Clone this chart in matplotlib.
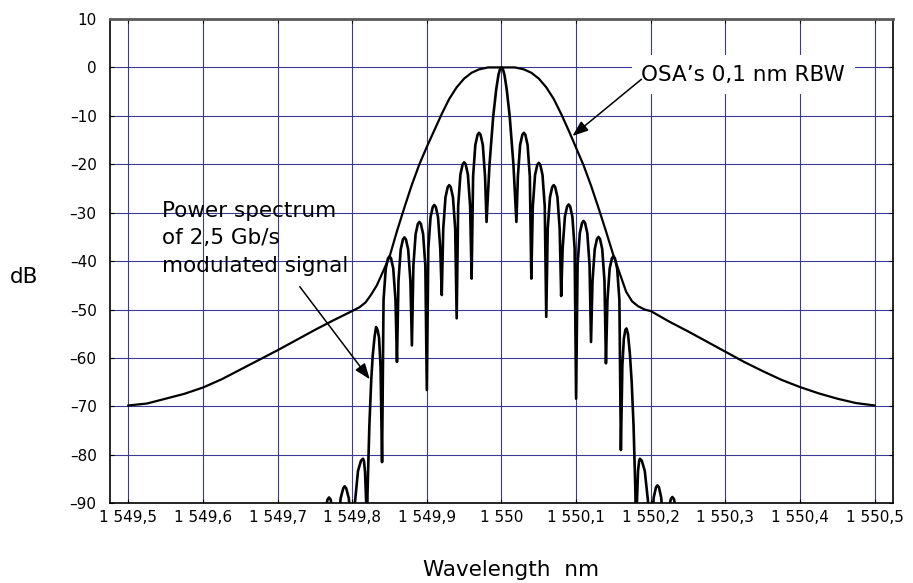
import matplotlib
matplotlib.use("Agg")
import matplotlib.pyplot as plt

# OSA filter response (0.1 nm RBW)
osa_wl = [1549.500, 1549.525, 1549.550, 1549.575, 1549.600, 1549.625, 1549.650,
          1549.675, 1549.700, 1549.725, 1549.750, 1549.775, 1549.800, 1549.810,
          1549.818, 1549.825, 1549.833, 1549.840, 1549.850, 1549.860, 1549.870,
          1549.880, 1549.890, 1549.900, 1549.910, 1549.920, 1549.930, 1549.940,
          1549.950, 1549.960, 1549.970, 1549.982, 1550.000, 1550.018, 1550.030,
          1550.040, 1550.050, 1550.060, 1550.070, 1550.080, 1550.090, 1550.100,
          1550.110, 1550.120, 1550.130, 1550.140, 1550.150, 1550.160, 1550.167,
          1550.175, 1550.183, 1550.192, 1550.200, 1550.225, 1550.250, 1550.275,
          1550.300, 1550.325, 1550.350, 1550.375, 1550.400, 1550.425, 1550.450,
          1550.475, 1550.500]
osa_db = [-69.8, -69.4, -68.4, -67.4, -66.1, -64.4, -62.4,
          -60.4, -58.4, -56.3, -54.2, -52.2, -50.3, -49.5,
          -48.5, -47.0, -45.0, -42.6, -39.1, -33.8, -28.9,
          -24.2, -20.0, -16.4, -13.0, -9.6, -6.5, -4.1,
          -2.3, -1.1, -0.4, 0.0, 0.0, 0.0, -0.4,
          -1.1, -2.3, -4.1, -6.5, -9.6, -13.0, -16.6,
          -20.2, -24.4, -29.0, -33.8, -38.8, -43.2, -46.3,
          -48.3, -49.3, -50.0, -50.3, -52.5, -54.5, -56.6,
          -58.7, -60.8, -62.7, -64.5, -66.0, -67.3, -68.4,
          -69.3, -69.8]

# power spectrum of the 2.5 Gb/s signal, traced lobe by lobe (left to right)
sig_wl = [
    1549.759, 1549.761, 1549.764, 1549.767, 1549.769, 1549.771, 1549.774, 1549.777,
    1549.779, 1549.781, 1549.7845, 1549.788, 1549.790, 1549.792, 1549.7955, 1549.799,
    1549.801, 1549.8037, 1549.8078, 1549.8118, 1549.8145, 1549.8158, 1549.8172, 1549.8188,
    1549.8195, 1549.8205, 1549.823, 1549.8255, 1549.8275, 1549.830, 1549.832, 1549.834, 1549.836, 1549.838,
    1549.840, 1549.842, 1549.845, 1549.848, 1549.850, 1549.852, 1549.855, 1549.858,
    1549.860, 1549.862, 1549.865, 1549.868, 1549.870, 1549.872, 1549.875, 1549.878,
    1549.880, 1549.882, 1549.885, 1549.888, 1549.890, 1549.892, 1549.895, 1549.898,
    1549.900, 1549.902, 1549.905, 1549.908, 1549.910, 1549.912, 1549.915, 1549.918,
    1549.920, 1549.922, 1549.925, 1549.928, 1549.930, 1549.932, 1549.935, 1549.938,
    1549.940, 1549.942, 1549.945, 1549.948, 1549.950, 1549.952, 1549.955, 1549.958,
    1549.960, 1549.962, 1549.965, 1549.968, 1549.970, 1549.972, 1549.975, 1549.978,
    1549.980, 1549.984, 1549.989, 1549.993, 1549.996, 1549.998, 1550.000,
    1550.002, 1550.004, 1550.007, 1550.011, 1550.016,
    1550.020, 1550.022, 1550.025, 1550.028, 1550.030, 1550.032, 1550.035, 1550.038,
    1550.040, 1550.042, 1550.045, 1550.048, 1550.050, 1550.052, 1550.055, 1550.058,
    1550.060, 1550.062, 1550.065, 1550.068, 1550.070, 1550.072, 1550.075, 1550.078,
    1550.080, 1550.082, 1550.085, 1550.088, 1550.090, 1550.092, 1550.095, 1550.098,
    1550.100, 1550.102, 1550.105, 1550.108, 1550.110, 1550.112, 1550.115, 1550.118,
    1550.120, 1550.122, 1550.125, 1550.128, 1550.130, 1550.132, 1550.135, 1550.138,
    1550.140, 1550.142, 1550.145, 1550.148, 1550.150, 1550.152, 1550.155, 1550.158,
    1550.160, 1550.162, 1550.164, 1550.166, 1550.1675, 1550.1695, 1550.172, 1550.1745, 1550.177, 1550.1795,
    1550.1805, 1550.1815, 1550.183, 1550.1845, 1550.1855, 1550.188, 1550.192, 1550.1965,
    1550.199, 1550.201, 1550.204, 1550.207, 1550.209, 1550.211, 1550.214, 1550.217,
    1550.219, 1550.221, 1550.224, 1550.227, 1550.229, 1550.231, 1550.234, 1550.237,
    1550.240]
sig_db = [
    -100, -97.8, -91.3, -89.2, -88.8, -89.2, -91.3, -97.8,
    -100, -95.5, -89.0, -86.9, -86.5, -86.9, -89.0, -95.5,
    -100, -89.8, -83.3, -81.2, -80.8, -81.3, -83.5, -90.0,
    -100, -88.0, -74.0, -64.6, -59.5, -55.6, -53.6, -54.2, -55.8, -61.8,
    -81.5, -48.0, -41.5, -39.4, -39.0, -39.4, -41.5, -48.0,
    -60.8, -44.1, -37.6, -35.5, -35.1, -35.5, -37.6, -44.1,
    -57.4, -40.9, -34.4, -32.3, -31.9, -32.3, -34.4, -40.9,
    -66.6, -37.4, -30.9, -28.8, -28.4, -28.8, -30.9, -37.4,
    -47.0, -33.3, -26.8, -24.7, -24.3, -24.7, -26.8, -33.3,
    -51.8, -28.6, -22.1, -20.0, -19.6, -20.0, -22.1, -28.6,
    -43.6, -22.5, -16.0, -13.9, -13.5, -13.9, -16.0, -22.5,
    -31.9, -20.0, -10.0, -4.5, -1.5, -0.4, 0.0,
    -0.4, -1.5, -4.5, -10.0, -20.0,
    -31.9, -22.5, -16.0, -13.9, -13.5, -13.9, -16.0, -22.5,
    -43.6, -28.7, -22.2, -20.1, -19.7, -20.1, -22.2, -28.7,
    -51.5, -33.3, -26.8, -24.7, -24.3, -24.7, -26.8, -33.3,
    -47.2, -37.3, -30.8, -28.7, -28.3, -28.7, -30.8, -37.3,
    -68.4, -40.7, -34.2, -32.1, -31.7, -32.1, -34.2, -40.7,
    -56.7, -44.0, -37.5, -35.4, -35.0, -35.4, -37.5, -44.0,
    -61.1, -48.0, -41.5, -39.4, -39.0, -39.4, -41.5, -48.0,
    -79.0, -61.5, -56.0, -54.2, -53.9, -55.0, -59.0, -65.0, -74.0, -88.0,
    -100, -89.8, -83.3, -81.2, -80.8, -81.2, -83.3, -89.8,
    -100, -95.3, -88.8, -86.7, -86.3, -86.7, -88.8, -95.3,
    -100, -97.7, -91.2, -89.1, -88.7, -89.1, -91.2, -97.7,
    -100]

x_ticks = [1549.5, 1549.6, 1549.7, 1549.8, 1549.9, 1550.0,
           1550.1, 1550.2, 1550.3, 1550.4, 1550.5]
x_tick_labels = ["1 549,5", "1 549,6", "1 549,7", "1 549,8", "1 549,9", "1 550",
                 "1 550,1", "1 550,2", "1 550,3", "1 550,4", "1 550,5"]
y_ticks = [10, 0, -10, -20, -30, -40, -50, -60, -70, -80, -90]
y_tick_labels = ["10", "0", "\u201310", "\u201320", "\u201330", "\u201340",
                 "\u201350", "\u201360", "\u201370", "\u201380", "\u201390"]

W, H = 913, 583
fig = plt.figure(figsize=(W / 100, H / 100), dpi=100)
ax = fig.add_axes([110 / W, 1 - 503.3 / H, (893.3 - 110) / W, (503.3 - 19) / H])

ax.plot(osa_wl, osa_db, color="black", lw=1.6)
ax.plot(sig_wl, sig_db, color="black", lw=1.9, solid_joinstyle="round")

ax.set_xlim(1549.4755, 1550.525)
ax.set_ylim(-90, 10)
ax.set_xticks(x_ticks)
ax.set_xticklabels(x_tick_labels)
ax.set_yticks(y_ticks)
ax.set_yticklabels(y_tick_labels)
ax.grid(True, color="#3a3a95", lw=0.8)
ax.set_axisbelow(True)
# small inward ticks on the frame, labels only left/bottom
ax.tick_params(axis="both", direction="in", length=3, width=0.8, labelsize=11,
               top=True, right=True, labeltop=False, labelright=False)
ax.tick_params(axis="x", pad=4.8)
ax.tick_params(axis="y", pad=9.6)
for side in ["left", "bottom", "right"]:
    ax.spines[side].set_color("black")
    ax.spines[side].set_linewidth(1.2)
ax.spines["top"].set_color("#5a5a5a")
ax.spines["top"].set_linewidth(2)

# annotations
ax.text(1550.1875, -2.74, "OSA\u2019s 0,1 nm RBW", fontsize=15.5, ha="left", va="baseline",
        bbox=dict(fc="white", ec="none", pad=7))
ax.annotate("", xy=(1550.0951, -14.16), xytext=(1550.1875, -2.45),
            arrowprops=dict(arrowstyle="-|>,head_length=0.8,head_width=0.3", color="black",
                            lw=1.1, shrinkA=0, shrinkB=0, mutation_scale=12))

for txt, yb in [("Power spectrum", -30.82), ("of 2,5 Gb/s", -36.52), ("modulated signal", -42.18)]:
    ax.text(1549.5458, yb, txt, fontsize=15.5, ha="left", va="baseline")
ax.annotate("", xy=(1549.8236, -64.4), xytext=(1549.7298, -45.28),
            arrowprops=dict(arrowstyle="-|>,head_length=0.8,head_width=0.3", color="black",
                            lw=1.1, shrinkA=0, shrinkB=0, mutation_scale=12))

fig.text(510.8 / W, 1 - 576 / H, "Wavelength  nm", fontsize=15.5, ha="center", va="baseline")
fig.text(10 / W, 1 - 283.3 / H, "dB", fontsize=15.5, ha="left", va="baseline")

fig.savefig("out.png", dpi=100)
